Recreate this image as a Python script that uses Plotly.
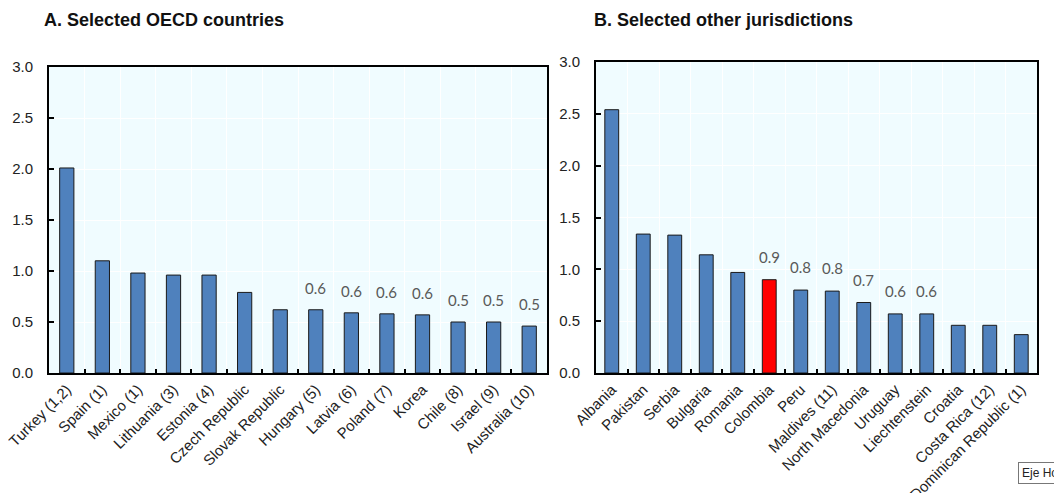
import plotly.graph_objects as go

# Panel A data
oecd_countries = ["Turkey (1,2)", "Spain (1)", "Mexico (1)", "Lithuania (3)", "Estonia (4)",
                  "Czech Republic", "Slovak Republic", "Hungary (5)", "Latvia (6)", "Poland (7)",
                  "Korea", "Chile (8)", "Israel (9)", "Australia (10)"]
oecd_values = [2.01, 1.10, 0.98, 0.96, 0.96, 0.79, 0.62, 0.62, 0.59, 0.58, 0.57, 0.50, 0.50, 0.46]
oecd_labelled = [False, False, False, False, False, False, False, True, True, True, True, True, True, True]

# Panel B data
other_juris = ["Albania", "Pakistan", "Serbia", "Bulgaria", "Romania", "Colombia", "Peru",
               "Maldives (11)", "North Macedonia", "Uruguay", "Liechtenstein", "Croatia",
               "Costa Rica (12)", "Dominican Republic (1)"]
other_values = [2.54, 1.34, 1.33, 1.14, 0.97, 0.90, 0.80, 0.79, 0.68, 0.57, 0.57, 0.46, 0.46, 0.37]
other_labelled = [False, False, False, False, False, True, True, True, True, True, True, False, False, False]
highlight = "Colombia"

y_ticks = [0.0, 0.5, 1.0, 1.5, 2.0, 2.5, 3.0]

BLUE = "#4F81BD"
RED = "#FF0000"
BG = "#F0FCFF"
TICKFONT = dict(family="Liberation Sans, Arial", size=15, color="#222222")
LABELFONT = dict(family="Lato, Open Sans, sans-serif", size=15, color="#595959")

W, H = 1062, 493
OFF = 8  # page body margin


def px_x(p):
    return (p - OFF) / W


def px_y(p):
    return 1 - (p - OFF) / H


fig = go.Figure()

fig.add_trace(go.Bar(
    x=oecd_countries, y=oecd_values, xaxis="x", yaxis="y",
    marker=dict(color=BLUE, line=dict(color="#1a1a1a", width=1)),
    width=0.4, showlegend=False, hoverinfo="x+y"))

fig.add_trace(go.Bar(
    x=other_juris, y=other_values, xaxis="x2", yaxis="y2",
    marker=dict(color=[RED if c == highlight else BLUE for c in other_juris],
                line=dict(color="#1a1a1a", width=1)),
    width=0.44, showlegend=False, hoverinfo="x+y"))

annotations = []
for c, v, lab in zip(oecd_countries, oecd_values, oecd_labelled):
    if lab:
        annotations.append(dict(x=c, y=v, xref="x", yref="y", text=f"{v:.1f}",
                                showarrow=False, yanchor="bottom", yshift=11, font=LABELFONT))
for c, v, lab in zip(other_juris, other_values, other_labelled):
    if lab:
        annotations.append(dict(x=c, y=v, xref="x2", yref="y2", text=f"{v:.1f}",
                                showarrow=False, yanchor="bottom", yshift=12, font=LABELFONT))

annotations.append(dict(x=px_x(42), y=px_y(20), xref="paper", yref="paper",
                        text="<b>A. Selected OECD countries</b>",
                        showarrow=False, xanchor="left", yanchor="middle",
                        font=dict(family="Liberation Sans, Arial", size=18, color="#111111")))
annotations.append(dict(x=px_x(592), y=px_y(20), xref="paper", yref="paper",
                        text="<b>B. Selected other jurisdictions</b>",
                        showarrow=False, xanchor="left", yanchor="middle",
                        font=dict(family="Liberation Sans, Arial", size=18, color="#111111")))
annotations.append(dict(x=px_x(1018), y=px_y(473), xref="paper", yref="paper", text="Eje Ho",
                        showarrow=False, xanchor="left", yanchor="middle",
                        bordercolor="#777777", borderwidth=1, borderpad=3, bgcolor="white",
                        font=dict(family="Liberation Sans, Arial", size=12, color="#222222")))

xcommon = dict(type="category", tickson="boundaries", ticks="inside", ticklen=4, tickwidth=2,
               tickcolor="black", showgrid=True, gridcolor="white", gridwidth=1,
               showline=True, linecolor="black", linewidth=2, mirror=True, automargin=False,
               tickangle=-45, tickfont=TICKFONT, fixedrange=True)
ycommon = dict(range=[0, 3.0], tickvals=y_ticks, ticktext=[f"{t:.1f}" for t in y_ticks],
               ticks="inside", ticklen=5, tickwidth=2, tickcolor="black",
               showgrid=True, gridcolor="white", gridwidth=1, zeroline=False,
               showline=True, linecolor="black", linewidth=2, mirror=True, automargin=False,
               tickfont=TICKFONT, ticklabelstandoff=11, fixedrange=True)

fig.update_layout(
    width=W, height=H, margin=dict(l=0, r=0, t=0, b=0, autoexpand=False),
    paper_bgcolor="white", plot_bgcolor=BG, bargap=0.5,
    xaxis=dict(domain=[px_x(49), px_x(547)], anchor="y", **xcommon),
    yaxis=dict(domain=[px_y(373), px_y(67)], anchor="x", **ycommon),
    xaxis2=dict(domain=[px_x(596), px_x(1037)], anchor="y2", **xcommon),
    yaxis2=dict(domain=[px_y(373), px_y(62)], anchor="x2", **ycommon),
    annotations=annotations,
)

fig.write_html("out.html")
